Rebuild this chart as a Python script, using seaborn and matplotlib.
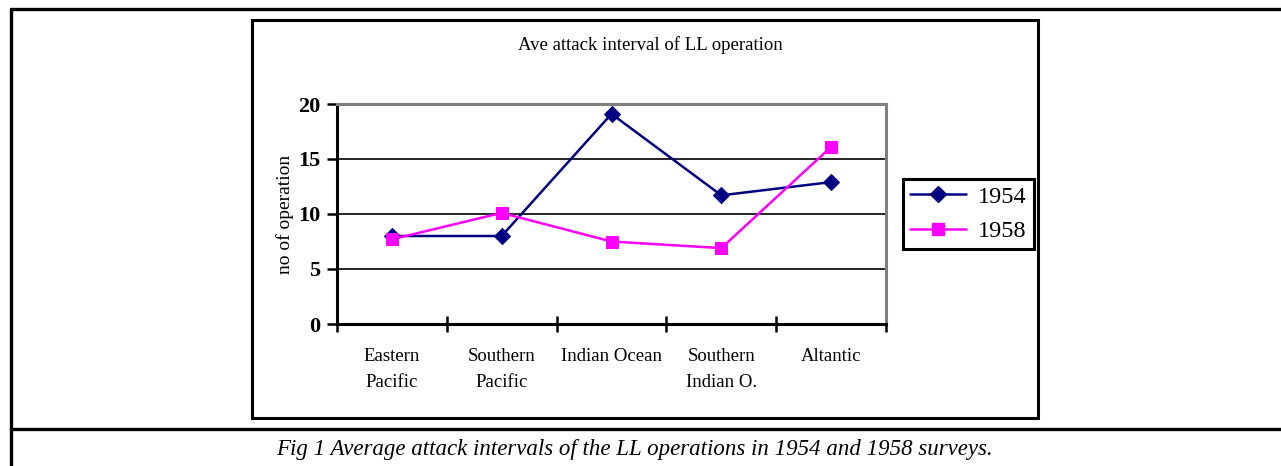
import pandas as pd
import numpy as np
import matplotlib
matplotlib.use("Agg")
import matplotlib.pyplot as plt
from matplotlib.lines import Line2D
from matplotlib.patches import Rectangle
import seaborn as sns

# data
regions = ["Eastern\nPacific", "Southern\nPacific", "Indian Ocean", "Southern\nIndian O.", "Altantic"]
vals_1954 = [8.0, 8.0, 19.1, 11.7, 12.9]
vals_1958 = [7.7, 10.1, 7.5, 6.9, 16.1]
years = ["1954", "1958"]

df = pd.DataFrame({
    "region": regions * 2,
    "value": vals_1954 + vals_1958,
    "year": [years[0]] * 5 + [years[1]] * 5,
})

sns.set_theme(style="white")
serif = ["Liberation Serif", "DejaVu Serif"]
plt.rcParams["font.family"] = serif
plt.rcParams.update({"text.color": "black", "axes.labelcolor": "black",
                     "xtick.color": "black", "ytick.color": "black"})

W, H = 1281, 466
fig = plt.figure(figsize=(W / 100, H / 100), dpi=100)
ax = fig.add_axes([337 / W, 1 - 324 / H, (886 - 337) / W, (324 - 104) / H])

pal = {"1954": "#000080", "1958": "#FF00FF"}
sns.lineplot(data=df, x="region", y="value", hue="year", style="year",
             palette=pal, markers={"1954": "D", "1958": "s"}, dashes=False,
             markersize=8.5, linewidth=1.8, sort=False, legend=False, ax=ax)
for ln in ax.lines:
    if ln.get_marker() == "s":
        ln.set_markeredgecolor("#FF00FF")
        ln.set_markersize(8)
    else:
        ln.set_markeredgecolor("#000080")

ax.set_xlim(-0.5, 4.5)
ax.set_ylim(0, 20)
ax.set_yticks([0, 5, 10, 15, 20])
ax.set_yticklabels(["0", "5", "10", "15", "20"], fontsize=16, fontweight="bold")
ax.yaxis.grid(True, color="black", linewidth=1.2)
ax.set_axisbelow(True)

ax.set_xticks(range(5))
ax.set_xticklabels(regions, fontsize=13.5, linespacing=1.75, va="top")
ax.set_xticks(np.arange(-0.5, 5.0, 1.0), minor=True)
ax.tick_params(axis="x", which="major", bottom=False, pad=11)
ax.tick_params(axis="x", which="minor", bottom=True, length=11, width=1.8, direction="inout")
ax.tick_params(axis="y", which="major", left=True, length=7, width=1.8, direction="out", pad=5)

ax.set_xlabel("")
ax.set_ylabel("no of operation", fontsize=14, labelpad=3)

for s in ["left", "bottom"]:
    ax.spines[s].set_color("black")
    ax.spines[s].set_linewidth(2.2)
for s in ["top", "right"]:
    ax.spines[s].set_color("#808080")
    ax.spines[s].set_linewidth(2.2)

fig.text(650 / W, 1 - 45 / H, "Ave attack interval of LL operation",
         ha="center", va="center", fontsize=13.5)

handles = [Line2D([], [], color="#000080", marker="D", markersize=8.5, linewidth=1.8),
           Line2D([], [], color="#FF00FF", marker="s", markersize=8, linewidth=1.8)]
leg = fig.legend(handles, years, loc="center", bbox_to_anchor=(968.5 / W, 1 - 214 / H),
                 frameon=True, fancybox=False, framealpha=1, handlelength=2.3,
                 handletextpad=0.5, borderpad=0.3, labelspacing=0.5, borderaxespad=0,
                 prop={"size": 17.5})
leg.get_frame().set_edgecolor("black")
leg.get_frame().set_linewidth(2.2)

# chart box and the table lines around the figure
fig.add_artist(Rectangle((252 / W, 1 - 418 / H), (1038 - 252) / W, (418 - 20) / H,
                         transform=fig.transFigure, fill=False, edgecolor="black", linewidth=2.2))
fig.add_artist(Line2D([11 / W, 1], [1 - 8.5 / H, 1 - 8.5 / H], transform=fig.transFigure, color="black", linewidth=2.4))
fig.add_artist(Line2D([11 / W, 11 / W], [0, 1 - 8.5 / H], transform=fig.transFigure, color="black", linewidth=2.4))
fig.add_artist(Line2D([11 / W, 1], [1 - 429 / H, 1 - 429 / H], transform=fig.transFigure, color="black", linewidth=2.4))

fig.text(634 / W, 1 - 449 / H, "Fig 1 Average attack intervals of the LL operations in 1954 and 1958 surveys.",
         ha="center", va="center", fontsize=16.5, style="italic")

fig.savefig("out.png", dpi=100)
